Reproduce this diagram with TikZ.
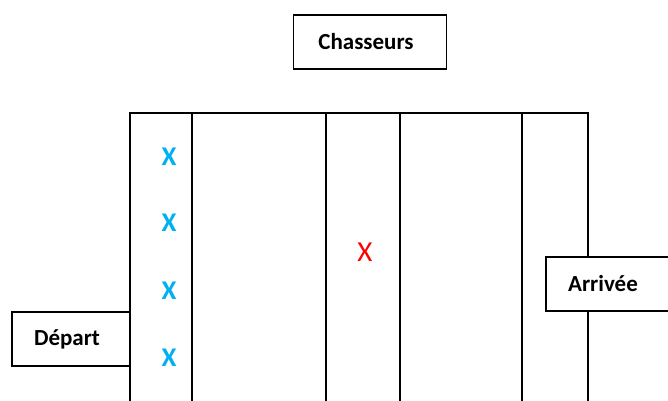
\documentclass[tikz,border=0pt]{standalone}
\usepackage{fontspec}
\setmainfont{Carlito}
\definecolor{xblue}{RGB}{0,176,240}
\definecolor{xred}{RGB}{255,0,0}
\begin{document}
\begin{tikzpicture}[x=1pt,y=-1pt,
  box/.style={draw=black, line width=1.5pt, fill=white, inner sep=0pt},
  lbl/.style={font=\fontsize{23}{26}\selectfont\bfseries, inner sep=0pt},
  bx/.style={font=\fontsize{27}{30}\selectfont\bfseries, text=xblue, inner sep=0pt},
  rx/.style={font=\fontsize{29}{32}\selectfont, text=xred, inner sep=0pt},
  lane/.style={draw=black, line width=1.5pt}]
\useasboundingbox (0,0) rectangle (668,400);
\clip (0,0) rectangle (668,400);
% field
\coordinate (tl) at (130,113);
\coordinate (tr) at (588,113);
\draw[lane] (130,410) -- (tl) -- (tr) -- (588,410);
\foreach \x/\n in {192/a,326/b,400/c,522/d}{
  \coordinate (t\n) at (\x,113);
  \coordinate (b\n) at (\x,410);
  \draw[lane] (t\n) -- (b\n);
}
% boxes
\node[box, minimum width=153pt, minimum height=54pt] (chb) at (370,42) {};
\node[lbl] (ch) at (366,42) {Chasseurs};
\node[box, minimum width=118pt, minimum height=54pt] (dpb) at (71,339) {};
\node[lbl] (dp) at (67,339) {Départ};
\node[box, minimum width=160pt, minimum height=54pt] (arb) at (626,284) {};
\node[lbl] (ar) at (603,284) {Arrivée};
% crosses
\node[bx] (x1) at (169,157) {X};
\node[bx] (x2) at (169,223) {X};
\node[bx] (x3) at (169,291) {X};
\node[bx] (x4) at (169,358) {X};
\node[rx] (xr) at (365,252) {X};
\end{tikzpicture}
\end{document}
